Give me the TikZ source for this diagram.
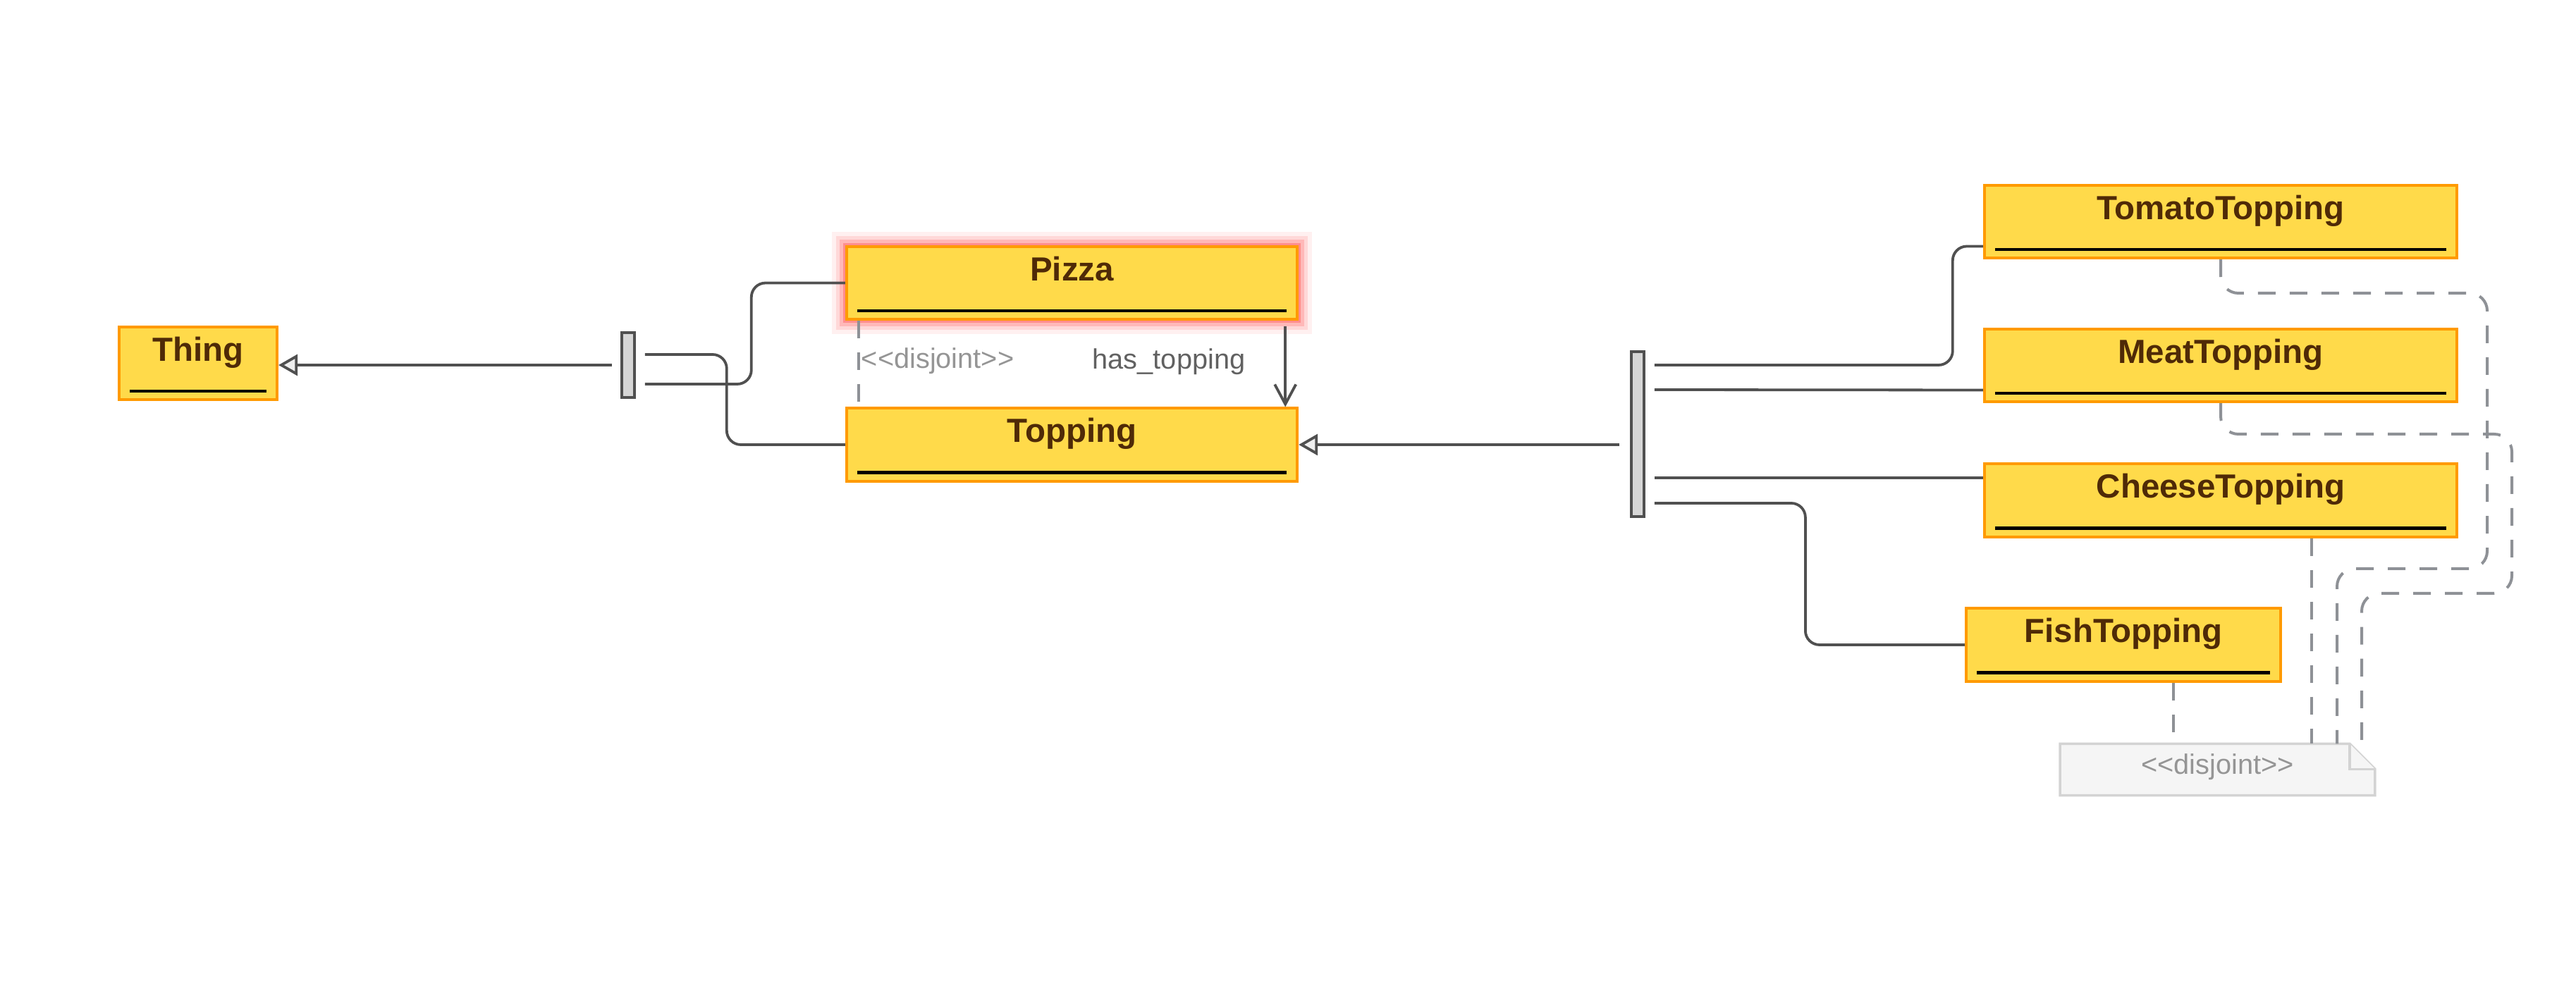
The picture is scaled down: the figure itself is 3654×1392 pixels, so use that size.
\documentclass[tikz,border=0pt]{standalone}
\usepackage{fontspec}
\setmainfont{Liberation Sans}
\usetikzlibrary{arrows.meta,calc,backgrounds}
\definecolor{classfill}{HTML}{FFDA4A}
\definecolor{classline}{HTML}{FF9A00}
\definecolor{classtext}{HTML}{4F2A07}
\definecolor{linkcolor}{HTML}{505050}
\definecolor{dashcolor}{HTML}{8E9196}
\definecolor{graytext}{HTML}{959595}
\definecolor{notefill}{HTML}{F5F5F5}
\definecolor{noteline}{HTML}{D3D3D3}
\definecolor{glowcolor}{HTML}{FF2A2A}
\definecolor{tipfill}{HTML}{EFEFEF}
\tikzset{
  onto class/.style={draw=classline,fill=classfill,line width=0.04cm,text=classtext,
    font=\fontsize{13.5}{16}\selectfont\bfseries,minimum height=1.03cm,inner ysep=0pt,
    text height=0.34cm,text depth=0.4cm,
    path picture={\draw[black,line width=0.045cm]
      ([xshift=0.15cm,yshift=0.12cm]path picture bounding box.south west)--
      ([xshift=-0.15cm,yshift=0.12cm]path picture bounding box.south east);}},
  pizza glow/.style={
    preaction={draw=glowcolor,draw opacity=.07,line width=0.42cm},
    preaction={draw=glowcolor,draw opacity=.12,line width=0.30cm},
    preaction={draw=glowcolor,draw opacity=.18,line width=0.19cm},
    preaction={draw=glowcolor,draw opacity=.30,line width=0.10cm}},
  onto bar/.style={draw=linkcolor,fill=black!16,line width=0.035cm,minimum width=0.18cm,inner sep=0pt},
  onto link/.style={draw=linkcolor,line width=0.038cm,rounded corners=0.2cm},
  gen arrow/.style={onto link,-{Triangle[length=0.27cm,width=0.3cm,fill=tipfill]}},
  prop arrow/.style={onto link,-{Straight Barb[length=0.28cm,width=0.3cm]}},
  disj/.style={draw=dashcolor,line width=0.04cm,dash pattern=on 0.25cm off 0.2cm,rounded corners=0.25cm},
  link label/.style={font=\fontsize{11.3}{13}\selectfont,inner sep=0pt},
  note box/.style={draw=noteline,fill=notefill,line width=0.035cm},
  note text/.style={link label,text=graytext,text height=0.29cm,text depth=0.16cm}
}
\begin{document}
\begin{tikzpicture}[x=0.01cm,y=-0.01cm]
  \useasboundingbox (0,0) rectangle (3654,1392);
  \node[onto class,minimum width=2.24cm] (thing) at (281,515.5) {Thing};
  \node[onto class,pizza glow,minimum width=6.39cm] (pizza) at (1520.5,401.5) {Pizza};
  \node[onto class,minimum width=6.39cm] (topping) at (1520.5,631) {Topping};
  \node[onto class,minimum width=6.7cm] (tomato) at (3150,314.5) {TomatoTopping};
  \node[onto class,minimum width=6.7cm] (meat) at (3150,518.5) {MeatTopping};
  \node[onto class,minimum width=6.7cm] (cheese) at (3150,710) {CheeseTopping};
  \node[onto class,minimum width=4.46cm] (fish) at (3012,915) {FishTopping};
  \node[onto bar,minimum height=0.92cm] (bar1) at (891,518) {};
  \node[onto bar,minimum height=2.34cm] (bar2) at (2323,616) {};
  \node[note text,minimum width=4.45cm,minimum height=0.72cm] (note) at (3145.5,1092) {<{}<disjoint>{}>};
  \begin{scope}[on background layer]
    \draw[note box] (note.south west) -- (note.north west) -- ([xshift=-0.36cm]note.north east)
      -- ([yshift=-0.36cm]note.north east) -- (note.south east) -- cycle;
    \draw[note box] ([xshift=-0.36cm]note.north east) |- ([yshift=-0.36cm]note.north east);
  \end{scope}

  \draw[gen arrow] ([xshift=-0.12cm]bar1.west) -- (thing.east |- bar1.west);
  \draw[onto link] ($(bar1.east)+(13,-15)$) -| ($(topping.west)+(-168,0)$) -- (topping.west);
  \draw[onto link] ($(bar1.east)+(13,27)$) -| ($(pizza.west)+(-133,0)$) -- (pizza.west);

  \draw[disj] ($(pizza.south west)+(19,0)$) --
    node[link label,text=graytext,anchor=west,pos=.47,xshift=0.02cm] {<{}<disjoint>{}>}
    ($(topping.north west)+(19,0)$);
  \draw[prop arrow] ($(pizza.south east)+(-19,8)$) --
    node[link label,text=linkcolor!90,anchor=east,pos=.44,xshift=-0.55cm] {has\_topping}
    ($(topping.north east)+(-19,0)$);

  \draw[gen arrow] ($(bar2.west |- topping.east)+(-15,0)$) -- (topping.east);
  \draw[onto link] ($(bar2.east)+(13,-98)$) -| ($(tomato.west)+(-43,35)$) -- ($(tomato.west)+(0,35)$);
  \draw[onto link] ($(bar2.east)+(13,-63)$) -- ($(meat.west)+(0,35)$);
  \draw[onto link] ($(bar2.east)+(13,62)$) -- ($(cheese.west)+(0,-32)$);
  \draw[onto link] ($(bar2.east)+(13,98)$) -| ($(fish.west)+(-226,0)$) -- (fish.west);

  \coordinate (tbend) at (3315,807);
  \coordinate (mbend) at (3350,842);
  \coordinate (cport) at ([xshift=1.29cm]cheese.south);
  \coordinate (fport) at ([xshift=0.71cm]fish.south);
  \draw[disj] (tomato.south) |- (3528,416) |- (tbend) -- (tbend |- note.north);
  \draw[disj] (meat.south) |- (3563,616) |- (mbend) -- (mbend |- note.north);
  \draw[disj] (cport) -- (cport |- note.north);
  \draw[disj] (fport) -- (fport |- note.north);
\end{tikzpicture}
\end{document}
